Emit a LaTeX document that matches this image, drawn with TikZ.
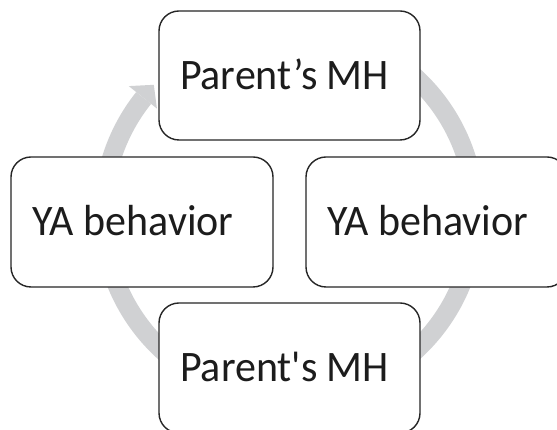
\documentclass[tikz,border=0pt]{standalone}
\usepackage{fontspec}
\usepackage{graphicx}
\newfontfamily\carlfont{Carlito}
\definecolor{ringgray}{HTML}{D0D1D3}
\definecolor{boxline}{HTML}{262626}
\definecolor{txt}{HTML}{1C1C1C}
\newcommand{\boxtxt}[1]{\scalebox{0.965}[1]{#1}}
\begin{document}
\begin{tikzpicture}[x=1pt,y=1pt,
  box/.style={draw=boxline, line width=1.4pt, fill=white, rounded corners=20pt,
    minimum width=261pt, minimum height=130pt, inner sep=0pt,
    text height=27.5pt, text depth=0pt,
    font=\carlfont\fontsize{43.5}{52}\selectfont, text=txt},
  ring/.style={draw=ringgray, line width=19pt}]
\useasboundingbox (0,0) rectangle (557,430);
\fill[white] (0,0) rectangle (557,430);
\coordinate (ctr) at (289,216);
% cycle arrow behind the boxes
\draw[ring] ([shift={(90:186)}]ctr) arc[start angle=90,end angle=-218.6,radius=186];
\fill[ringgray] ([shift={(141.4:205)}]ctr) -- ([shift={(136.3:187)}]ctr)
  -- ([shift={(141.4:169)}]ctr) -- cycle;
% boxes
\node[box, minimum height=129pt] (top) at (289.5,354.5) {\boxtxt{Parent’s MH}\kern10pt};
\node[box, minimum width=262pt] (left) at (142,208) {\boxtxt{YA behavior}\kern18pt};
\node[box] (right) at (436.5,208) {\boxtxt{YA behavior}\kern18pt};
\node[box] (bottom) at (289.5,62) {\boxtxt{Parent's MH}\kern10pt};
\end{tikzpicture}
\end{document}
